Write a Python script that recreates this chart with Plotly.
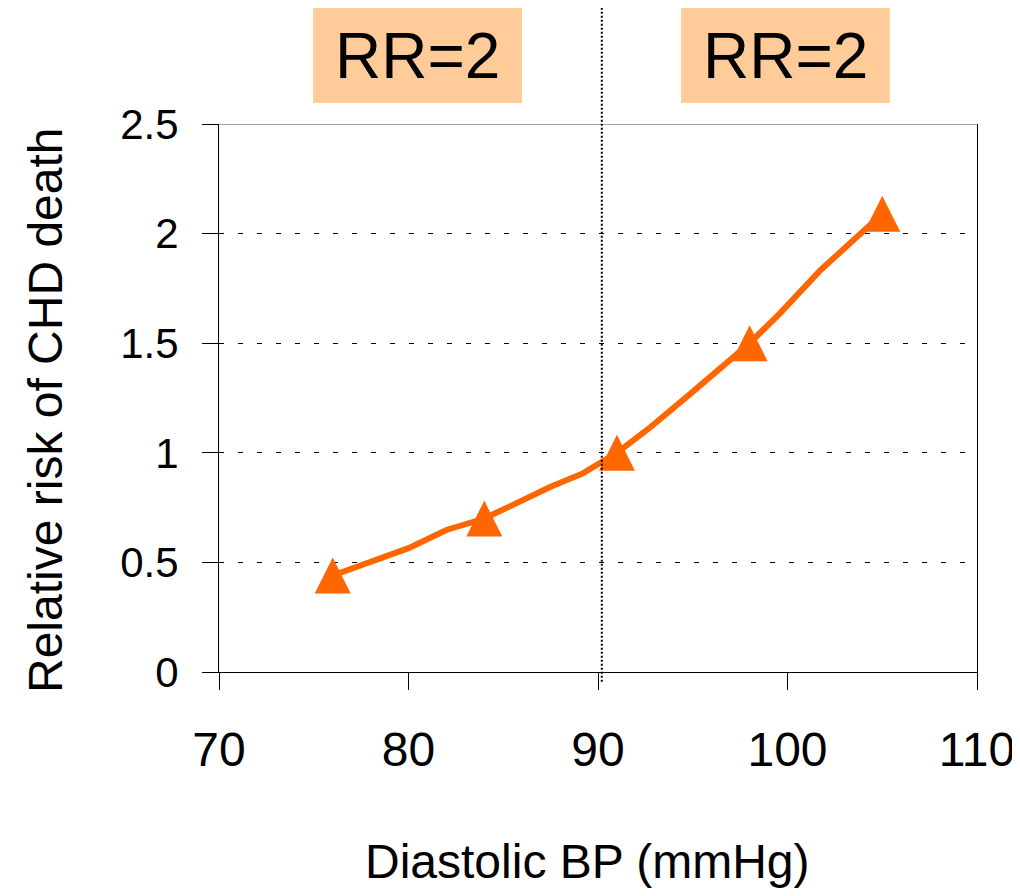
import plotly.graph_objects as go

# ---- data ----
bp_points = [76, 84, 91, 98, 105]
rr_points = [0.44, 0.70, 1.00, 1.50, 2.09]

curve_bp = [76, 80.0, 82.0, 84, 87.5, 89.2, 91, 92.7, 94.9, 98, 99.6, 101.75, 105]
curve_rr = [0.44, 0.565, 0.648, 0.70, 0.845, 0.906, 1.00, 1.112, 1.271, 1.50, 1.636, 1.834, 2.09]

x_ticks = [70, 80, 90, 100, 110]
y_ticks = [0, 0.5, 1, 1.5, 2, 2.5]
y_tick_text = ["0", "0.5", "1", "1.5", "2", "2.5"]

threshold_bp = 90.2
rr_labels = ["RR=2", "RR=2"]
x_title = "Diastolic BP (mmHg)"
y_title = "Relative risk of CHD death"

ORANGE = "#FF6600"
PEACH = "#FFCC99"
FONT = "Arial, Liberation Sans, sans-serif"

fig = go.Figure()

fig.add_trace(go.Scatter(
    x=curve_bp, y=curve_rr, mode="lines",
    line=dict(color=ORANGE, width=6),
    hoverinfo="skip", showlegend=False,
))
fig.add_trace(go.Scatter(
    x=bp_points, y=rr_points, mode="markers",
    marker=dict(symbol="arrow-down", angle=180, standoff=18, size=36,
                color=ORANGE, line=dict(width=0)),
    showlegend=False,
))

# label boxes (paper coords)
box_x = [(0.124, 0.3997), (0.6095, 0.885)]
for (x0, x1), txt in zip(box_x, rr_labels):
    fig.add_shape(type="rect", xref="paper", yref="paper",
                  x0=x0, x1=x1, y0=1.0383, y1=1.2135,
                  fillcolor=PEACH, line=dict(width=0), layer="above")
    fig.add_annotation(x=(x0 + x1) / 2, y=1.124, xref="paper", yref="paper",
                       text=txt, showarrow=False, xanchor="center", yanchor="middle",
                       font=dict(family=FONT, size=64, color="black"))

# grey top border
fig.add_shape(type="line", xref="paper", yref="y", x0=0, x1=1, y0=2.5, y1=2.5,
              line=dict(color="#8a8a8a", width=1.5), layer="below")

# vertical dotted threshold line
fig.add_shape(type="line", xref="x", yref="paper", x0=threshold_bp, x1=threshold_bp,
              y0=-0.018, y1=1.2135, line=dict(color="black", width=2, dash="2px,2px"),
              layer="above")

# axis titles
fig.add_annotation(x=0.486, y=-0.3467, xref="paper", yref="paper", text=x_title,
                   showarrow=False, xanchor="center", yanchor="middle",
                   font=dict(family=FONT, size=48, color="black"))
fig.add_annotation(x=-0.2296, y=0.478, xref="paper", yref="paper", text=y_title,
                   showarrow=False, xanchor="center", yanchor="middle", textangle=-90,
                   font=dict(family=FONT, size=48, color="black"))

fig.update_layout(
    width=1012, height=880,
    margin=dict(l=211, r=43, t=116, b=216, autoexpand=False),
    paper_bgcolor="white", plot_bgcolor="white",
    font=dict(family=FONT, color="black"),
    xaxis=dict(range=[70, 110], tickvals=x_ticks, ticks="outside", ticklen=17,
               tickcolor="black", tickwidth=1, showline=True, linecolor="black",
               linewidth=1, showgrid=False, zeroline=False,
               tickfont=dict(family=FONT, size=48, color="black"),
               ticklabelstandoff=18, ticklabeloverflow="allow", fixedrange=True),
    yaxis=dict(range=[0, 2.5], tickvals=y_ticks, ticktext=y_tick_text, ticks="outside",
               ticklen=16, tickcolor="black", tickwidth=1, showline=True, mirror=True,
               linecolor="black", linewidth=1, showgrid=True, gridcolor="black",
               griddash="5px,14px", gridwidth=1, zeroline=False,
               tickfont=dict(family=FONT, size=42, color="black"),
               ticklabelstandoff=15, fixedrange=True),
)

fig.write_html("out.html")
